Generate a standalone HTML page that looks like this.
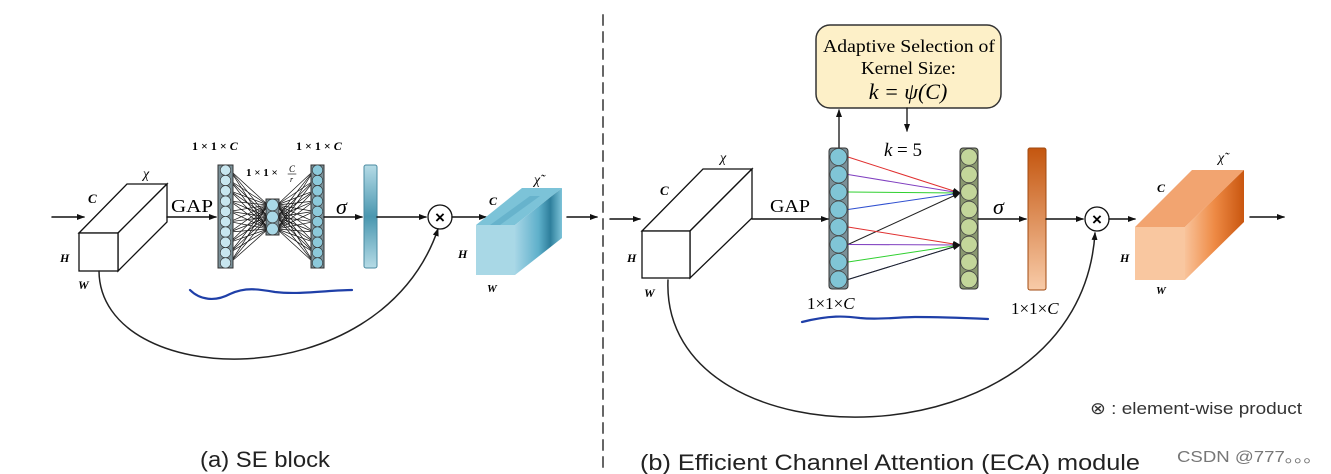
<!DOCTYPE html>
<html><head><meta charset="utf-8"><style>
html,body{margin:0;padding:0;background:#fff;}
svg{display:block;}
.it{font-family:"Liberation Serif",serif;font-style:italic;}
.sr{font-family:"Liberation Serif",serif;}
.ss{font-family:"Liberation Sans",sans-serif;}
</style></head><body>
<svg id="s" width="1331" height="474" viewBox="0 0 1331 474" xmlns="http://www.w3.org/2000/svg">
<defs>
<marker id="a" markerWidth="8" markerHeight="8" refX="7" refY="4" orient="auto" markerUnits="userSpaceOnUse"><path d="M0,1 L8,4 L0,7 z" fill="#111"/></marker>
<linearGradient id="bl" x1="0" y1="0" x2="0" y2="1"><stop offset="0" stop-color="#b5dbe6"/><stop offset="0.5" stop-color="#4a97b0"/><stop offset="1" stop-color="#b5dbe6"/></linearGradient>
<linearGradient id="or" x1="0" y1="0" x2="0" y2="1"><stop offset="0" stop-color="#c4560f"/><stop offset="1" stop-color="#f8cba8"/></linearGradient>
<linearGradient id="cubeb" x1="0" y1="0" x2="1" y2="0"><stop offset="0" stop-color="#a7d6e6"/><stop offset="0.5" stop-color="#5fb0cb"/><stop offset="0.75" stop-color="#2e7f9c"/><stop offset="1" stop-color="#7cc3d8"/></linearGradient>
<linearGradient id="cubeo" x1="0" y1="0" x2="1" y2="0"><stop offset="0" stop-color="#f9c39a"/><stop offset="0.5" stop-color="#ee8a45"/><stop offset="1" stop-color="#c9560f"/></linearGradient>
</defs>
<g id="g" stroke-linecap="round">
<line x1="603" y1="15" x2="603" y2="474" stroke="#666" stroke-width="2" stroke-dasharray="10,7"/>

<!-- ===== LEFT SE ===== -->
<line x1="52" y1="217" x2="84" y2="217" stroke="#111" stroke-width="1.5" marker-end="url(#a)"/>
<polygon points="79,233 127,184 167,184 118,233" fill="#fff" stroke="#111" stroke-width="1.3"/>
<polygon points="118,233 167,184 167,222 118,271" fill="#fff" stroke="#111" stroke-width="1.3"/>
<rect x="79" y="233" width="39" height="38" fill="#fff" stroke="#111" stroke-width="1.3"/>
<text x="88" y="203" class="it" font-size="13" font-weight="bold">C</text>
<text x="143" y="178" class="it" font-size="14">χ</text>
<text x="60" y="262" class="it" font-size="12" font-weight="bold">H</text>
<text x="78" y="289" class="it" font-size="12" font-weight="bold">W</text>
<line x1="167" y1="217" x2="216" y2="217" stroke="#111" stroke-width="1.5" marker-end="url(#a)"/>
<text x="171" y="212" class="sr" font-size="18" textLength="42" lengthAdjust="spacingAndGlyphs">GAP</text>
<text x="192" y="150" class="sr" font-size="12" font-weight="bold">1 × 1 × <tspan class="it">C</tspan></text>
<text x="296" y="150" class="sr" font-size="12" font-weight="bold">1 × 1 × <tspan class="it">C</tspan></text>
<text x="246" y="176" class="sr" font-size="11" font-weight="bold">1 × 1 ×</text>
<text x="289" y="172" class="it" font-size="9">C</text>
<line x1="288" y1="174" x2="296" y2="174" stroke="#333" stroke-width="0.8"/>
<text x="290" y="182" class="it" font-size="8">r</text>
<g id="se"></g>
<text x="336" y="214" class="it" font-size="22">σ</text>
<line x1="324" y1="217" x2="362" y2="217" stroke="#111" stroke-width="1.5" marker-end="url(#a)"/>
<rect x="364" y="165" width="13" height="103" rx="2" fill="url(#bl)" stroke="#4a8aa0" stroke-width="1"/>
<line x1="377" y1="217" x2="426" y2="217" stroke="#111" stroke-width="1.5" marker-end="url(#a)"/>
<circle cx="440" cy="217" r="12" fill="#fff" stroke="#111" stroke-width="1.3"/>
<text x="440" y="223" text-anchor="middle" class="ss" font-size="17" font-weight="bold">×</text>
<line x1="452" y1="217" x2="486" y2="217" stroke="#111" stroke-width="1.5" marker-end="url(#a)"/>
<path d="M99,271 C100,390 380,400 438,229" fill="none" stroke="#222" stroke-width="1.5" marker-end="url(#a)"/>
<polygon points="476,225 522,188 562,188 515,225" fill="#7cc3d8"/>
<polygon points="515,225 562,188 562,238 515,275" fill="url(#cubeb)"/>
<rect x="476" y="225" width="39" height="50" fill="#a9d8e6"/>
<polygon points="490,225 530,196 540,196 500,225" fill="#5aa9c4" opacity="0.6"/>
<text x="489" y="205" class="it" font-size="12" font-weight="bold">C</text>
<text x="534" y="184" class="it" font-size="14">χ̃</text>
<text x="458" y="258" class="it" font-size="12" font-weight="bold">H</text>
<text x="487" y="292" class="it" font-size="11" font-weight="bold">W</text>
<line x1="567" y1="217" x2="597" y2="217" stroke="#111" stroke-width="1.5" marker-end="url(#a)"/>
<path d="M190,290 C200,300 215,302 230,294 C245,287 258,289 275,292 C300,295 330,290 352,290" fill="none" stroke="#1f3fa8" stroke-width="2.2"/>
<text x="200" y="467" class="ss" font-size="22" fill="#222" textLength="130" lengthAdjust="spacingAndGlyphs">(a) SE block</text>

<!-- ===== RIGHT ECA ===== -->
<line x1="610" y1="219" x2="640" y2="219" stroke="#111" stroke-width="1.5" marker-end="url(#a)"/>
<polygon points="642,231 703,169 752,169 690,231" fill="#fff" stroke="#111" stroke-width="1.3"/>
<polygon points="690,231 752,169 752,218 690,278" fill="#fff" stroke="#111" stroke-width="1.3"/>
<rect x="642" y="231" width="48" height="47" fill="#fff" stroke="#111" stroke-width="1.3"/>
<text x="660" y="195" class="it" font-size="13" font-weight="bold">C</text>
<text x="720" y="162" class="it" font-size="14">χ</text>
<text x="627" y="262" class="it" font-size="12" font-weight="bold">H</text>
<text x="644" y="297" class="it" font-size="12" font-weight="bold">W</text>
<line x1="752" y1="219" x2="828" y2="219" stroke="#111" stroke-width="1.5" marker-end="url(#a)"/>
<text x="770" y="212" class="sr" font-size="18" textLength="40" lengthAdjust="spacingAndGlyphs">GAP</text>
<rect x="816" y="25" width="185" height="83" rx="14" fill="#fdf0c8" stroke="#333" stroke-width="1.5"/>
<text x="823" y="52" class="sr" font-size="18" textLength="172" lengthAdjust="spacingAndGlyphs">Adaptive Selection of</text>
<text x="861" y="74" class="sr" font-size="18" textLength="95" lengthAdjust="spacingAndGlyphs">Kernel Size:</text>
<text x="908" y="99" text-anchor="middle" class="it" font-size="22">k = ψ(C)</text>
<line x1="839" y1="148" x2="839" y2="110" stroke="#111" stroke-width="1.3" marker-end="url(#a)"/>
<line x1="907" y1="108" x2="907" y2="131" stroke="#111" stroke-width="1.3" marker-end="url(#a)"/>
<text x="884" y="156" class="it" font-size="19">k</text><text x="897" y="156" class="sr" font-size="19">= 5</text>
<g id="eca"></g>
<text x="993" y="214" class="it" font-size="22">σ</text>
<line x1="978" y1="219" x2="1026" y2="219" stroke="#111" stroke-width="1.5" marker-end="url(#a)"/>
<rect x="1028" y="148" width="18" height="142" rx="2" fill="url(#or)" stroke="#a04a10" stroke-width="1"/>
<line x1="1046" y1="219" x2="1083" y2="219" stroke="#111" stroke-width="1.5" marker-end="url(#a)"/>
<circle cx="1097" cy="219" r="12" fill="#fff" stroke="#111" stroke-width="1.3"/>
<text x="1097" y="225" text-anchor="middle" class="ss" font-size="17" font-weight="bold">×</text>
<line x1="1109" y1="219" x2="1135" y2="219" stroke="#111" stroke-width="1.5" marker-end="url(#a)"/>
<path d="M668,280 C660,470 1080,470 1095,233" fill="none" stroke="#222" stroke-width="1.5" marker-end="url(#a)"/>
<text x="807" y="309" class="sr" font-size="17">1×1×<tspan class="it">C</tspan></text>
<text x="1011" y="314" class="sr" font-size="17">1×1×<tspan class="it">C</tspan></text>
<path d="M802,322 C830,315 845,316 860,318 C880,320 900,317 915,317 C940,317 965,318 988,319" fill="none" stroke="#1f3fa8" stroke-width="2.2"/>
<polygon points="1135,227 1192,170 1244,170 1185,227" fill="#f2a470"/>
<polygon points="1185,227 1244,170 1244,222 1185,280" fill="url(#cubeo)"/>
<rect x="1135" y="227" width="50" height="53" fill="#f9c7a0"/>
<text x="1157" y="192" class="it" font-size="12" font-weight="bold">C</text>
<text x="1218" y="162" class="it" font-size="14">χ̃</text>
<text x="1120" y="262" class="it" font-size="12" font-weight="bold">H</text>
<text x="1156" y="294" class="it" font-size="11" font-weight="bold">W</text>
<line x1="1250" y1="217" x2="1284" y2="217" stroke="#111" stroke-width="1.5" marker-end="url(#a)"/>
<text x="1090" y="414" class="ss" font-size="17" fill="#333" textLength="212" lengthAdjust="spacingAndGlyphs">⊗ : element-wise product</text>
<text x="640" y="470" class="ss" font-size="22" fill="#222" textLength="500" lengthAdjust="spacingAndGlyphs">(b) Efficient Channel Attention (ECA) module</text>
<text x="1177" y="462" class="ss" font-size="16" fill="#777" textLength="145" lengthAdjust="spacingAndGlyphs">CSDN @777。。。</text>
</g>
</svg>
<script>
var NS="http://www.w3.org/2000/svg";
function el(p,t,a){var e=document.createElementNS(NS,t);for(var k in a)e.setAttribute(k,a[k]);p.appendChild(e);return e;}
var se=document.getElementById("se");
var y1=[],ym=[];
for(var i=0;i<10;i++){y1.push(170.2+i*10.3);}
for(var i=0;i<3;i++){ym.push(205+i*12);}
for(var i=0;i<10;i++)for(var j=0;j<3;j++){el(se,"line",{x1:230,y1:y1[i],x2:268,y2:ym[j],stroke:"#111","stroke-width":0.7});el(se,"line",{x1:277,y1:ym[j],x2:314,y2:y1[i],stroke:"#111","stroke-width":0.7});}
el(se,"rect",{x:218,y:165,width:15,height:103,fill:"#7a9098",stroke:"#333"});
el(se,"rect",{x:311,y:165,width:13,height:103,fill:"#7a9098",stroke:"#333"});
el(se,"rect",{x:266,y:199,width:13,height:36,fill:"#7a9098",stroke:"#333"});
for(var i=0;i<10;i++){el(se,"circle",{cx:225.5,cy:y1[i],r:5.2,fill:"#c8e6ef",stroke:"#333","stroke-width":0.6});el(se,"circle",{cx:317.5,cy:y1[i],r:5.2,fill:"#8cc9da",stroke:"#333","stroke-width":0.6});}
for(var j=0;j<3;j++)el(se,"circle",{cx:272.5,cy:ym[j],r:5.8,fill:"#a9d8e6",stroke:"#333","stroke-width":0.6});
var eca=document.getElementById("eca");
var cols=["#e03030","#8040c0","#30d030","#3050d0","#222"];
for(var g=0;g<2;g++){var ty=g==0?193:245;for(var k=0;k<5;k++){var sy=157+(g*4+k)*17.5;if(g==0&&k==4)sy=157+5*17.5;if(g==1&&k==4)sy=157+7*17.5;el(eca,"line",{x1:848,y1:sy,x2:960,y2:ty,stroke:cols[k],"stroke-width":1,"marker-end":"url(#a)"});}}
el(eca,"rect",{x:829,y:148,width:19,height:141,rx:3,fill:"#7a9098",stroke:"#333"});
el(eca,"rect",{x:960,y:148,width:18,height:141,rx:3,fill:"#8a9870",stroke:"#333"});
for(var i=0;i<8;i++){var cy=157+i*17.5;el(eca,"circle",{cx:838.5,cy:cy,r:8.5,fill:"#80c5d6",stroke:"#444","stroke-width":0.8});el(eca,"circle",{cx:969,cy:cy,r:8.3,fill:"#c3d69a",stroke:"#444","stroke-width":0.8});}
</script>
</body></html>
